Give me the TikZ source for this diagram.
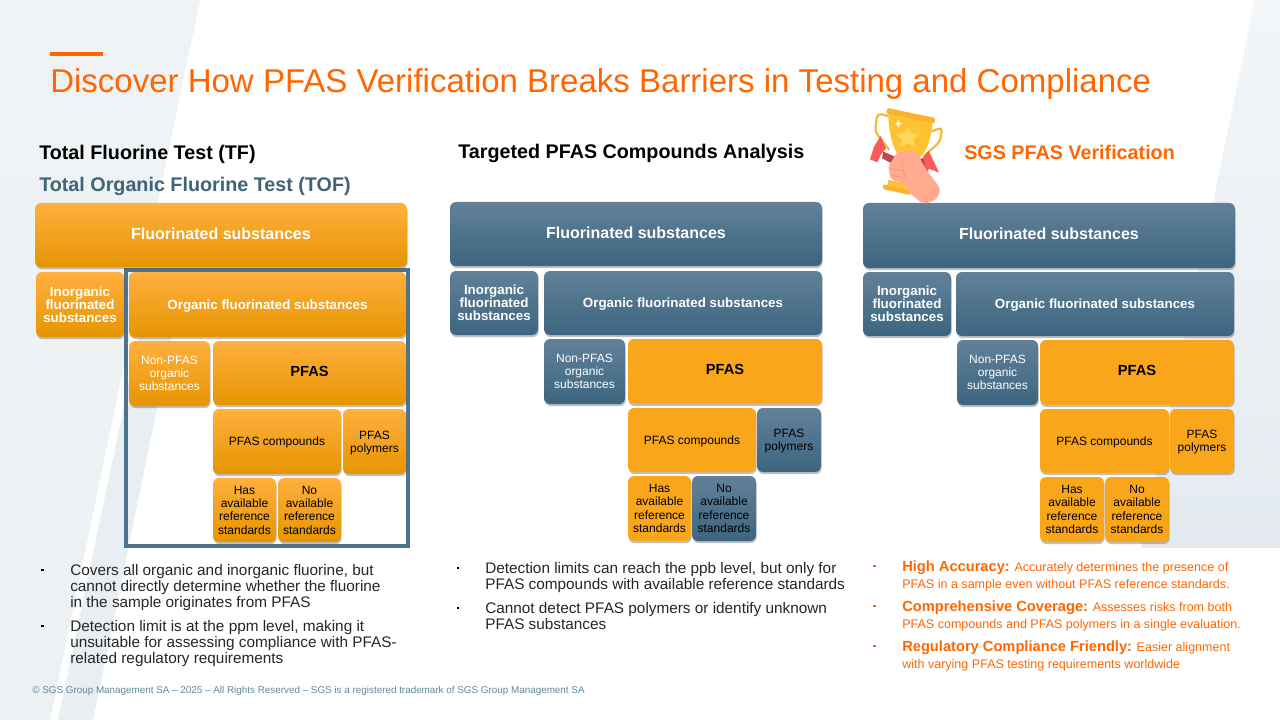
\documentclass[tikz,border=0pt]{standalone}
\usepackage{fontspec}
\setmainfont{Liberation Sans}
\usepackage{xcolor}
\definecolor{sgsorange}{HTML}{FF6600}
\definecolor{framepetrol}{HTML}{4D748F}
\definecolor{headpetrol}{HTML}{3F6475}
\definecolor{footpetrol}{HTML}{5F87A0}
\definecolor{flatorange}{HTML}{FAA61A}
\definecolor{orangetop}{HTML}{FFB03F}
\definecolor{orangemid}{HTML}{FFA814}
\definecolor{orangelow}{HTML}{E69500}
\definecolor{bluetop}{HTML}{628199}
\definecolor{bluemid}{HTML}{4A7390}
\definecolor{bluelow}{HTML}{3C6580}
\definecolor{cuphandle}{HTML}{F5B92F}
\definecolor{cupgold}{HTML}{FFC233}
\definecolor{cuprim}{HTML}{FDB22E}
\definecolor{cupstar}{HTML}{FFD95C}
\definecolor{ribbonred}{HTML}{FB5A5A}
\definecolor{ribbondark}{HTML}{B94A50}
\definecolor{handskin}{HTML}{FFAB8F}
\definecolor{handline}{HTML}{F08C6E}
\usetikzlibrary{shadows}
\tikzset{
	block/.style={rounded corners=4.5pt,inner sep=0pt,align=center,drop shadow={shadow xshift=0.5pt,shadow yshift=-1.6pt,opacity=.35,fill=black!70}},
	orangebox/.style={block,top color=orangetop,middle color=orangemid,bottom color=orangelow},
	bluebox/.style={block,top color=bluetop,middle color=bluemid,bottom color=bluelow},
	flatbox/.style={block,fill=flatorange},
	bigtext/.style={font=\bfseries\fontsize{12}{14}\selectfont,text=white,text depth=2.5pt},
	midtext/.style={font=\bfseries\fontsize{10}{9.75}\selectfont,text=white},
	linetext/.style={font=\bfseries\fontsize{10}{9.75}\selectfont,text=white,text depth=0pt},
	smalltext/.style={font=\fontsize{9}{9.75}\selectfont,text=white},
	darktext/.style={font=\fontsize{9}{10}\selectfont,text=black,text depth=0pt},
	pfastext/.style={font=\bfseries\fontsize{11}{13}\selectfont,text=black,text depth=2.5pt},
	heading/.style={anchor=base west,inner sep=0pt,font=\bfseries\fontsize{14.8}{16}\selectfont},
	bodytext/.style={anchor=north west,inner sep=0pt,align=left,font=\fontsize{11.5}{12}\selectfont,text=black!85},
	accenttext/.style={anchor=north west,inner sep=0pt,align=left,font=\fontsize{9.4}{12.6}\selectfont,text=sgsorange},
	bulletmark/.style={fill=#1,inner sep=0pt,minimum size=1.9pt}
}
% box given by its corners
\newcommand{\blockbox}[7][]{\node[#1,minimum width={(#5-#3)*0.75pt},minimum height={(#6-#4)*0.75pt}] (#2) at ({(#3+#5)/2},{(#4+#6)/2}) {#7};}
\newcommand{\lead}[1]{{\bfseries\fontsize{11}{12.6}\selectfont #1}}
\definecolor{backtop}{HTML}{F0F3F5}
\definecolor{backmid}{HTML}{E3E9ED}
\definecolor{backlow}{HTML}{ECF1F4}
\definecolor{backlight}{HTML}{E8EEF1}
\definecolor{righttop}{HTML}{F3F6F9}
\definecolor{rightlow}{HTML}{E4EBF0}
\begin{document}
\begin{tikzpicture}[x=0.75pt,y=-0.75pt]
	\useasboundingbox (0,0) rectangle (1280,720);
	%background
	\fill[white] (0,0) rectangle (1280,720);
	\shade[top color=backtop,middle color=backmid,bottom color=backlow] (0,0) -- (200,0) -- (50,720) -- (0,720) -- cycle;
	\fill[backlight] (139,335) -- (172,335) -- (93,720) -- (58,720) -- cycle;
	\shade[top color=righttop,bottom color=rightlow] (1255,0) -- (1280,0) -- (1280,548) -- (1141,548) -- cycle;

	%title
	\fill[sgsorange] (50,52) rectangle (103,56);
	\node[anchor=base west,inner sep=0pt,text=sgsorange,font=\fontsize{24.76}{28}\selectfont] (title) at (50,93) {Discover How PFAS Verification Breaks Barriers in Testing and Compliance};

	%headings
	\node[heading] (tfhead) at (39,160) {Total Fluorine Test (TF)};
	\node[heading,text=headpetrol] (tofhead) at (39,192) {Total Organic Fluorine Test (TOF)};
	\node[heading] (targethead) at (458,159) {Targeted PFAS Compounds Analysis};
	\node[heading,text=sgsorange] (sgshead) at (964,160) {SGS PFAS Verification};

	%left tree
	\draw[framepetrol,line width=3pt] (126,270) rectangle (408,546);
	\blockbox[orangebox,bigtext]{fa}{35}{203}{407}{267}{Fluorinated substances}
	\blockbox[orangebox,midtext]{ia}{36}{272}{124}{337}{Inorganic\\fluorinated\\substances}
	\blockbox[orangebox,linetext]{oa}{129}{272}{406}{337}{Organic fluorinated substances}
	\blockbox[orangebox,smalltext]{na}{129}{341}{210}{406}{Non-PFAS\\organic\\substances}
	\blockbox[orangebox,pfastext]{pa}{213}{341}{406}{405}{PFAS}
	\blockbox[orangebox,darktext]{ca}{213}{409}{341}{474}{PFAS compounds}
	\blockbox[orangebox,darktext]{ma}{343}{409}{406}{474}{PFAS\\polymers}
	\blockbox[orangebox,darktext]{ha}{213}{478}{276}{542}{Has\\available\\reference\\standards}
	\blockbox[orangebox,darktext]{xa}{278}{478}{341}{542}{No\\available\\reference\\standards}

	%middle tree
	\blockbox[bluebox,bigtext]{fb}{450}{202}{822}{266}{Fluorinated substances}
	\blockbox[bluebox,midtext]{ib}{450}{271}{538}{335}{Inorganic\\fluorinated\\substances}
	\blockbox[bluebox,linetext]{ob}{544}{271}{822}{335}{Organic fluorinated substances}
	\blockbox[bluebox,smalltext]{nb}{544}{339}{625}{404}{Non-PFAS\\organic\\substances}
	\blockbox[flatbox,pfastext]{pb}{628}{339}{822}{404}{PFAS}
	\blockbox[flatbox,darktext]{cb}{628}{408}{756}{472}{PFAS compounds}
	\blockbox[bluebox,darktext]{mb}{757}{408}{821}{472}{PFAS\\polymers}
	\blockbox[flatbox,darktext]{hb}{628}{476}{691}{541}{Has\\available\\reference\\standards}
	\blockbox[bluebox,darktext]{xb}{692}{476}{756}{541}{No\\available\\reference\\standards}

	%right tree
	\blockbox[bluebox,bigtext]{fc}{863}{203}{1235}{268}{Fluorinated substances}
	\blockbox[bluebox,midtext]{ic}{863}{272}{951}{336}{Inorganic\\fluorinated\\substances}
	\blockbox[bluebox,linetext]{oc}{956}{272}{1234}{336}{Organic fluorinated substances}
	\blockbox[bluebox,smalltext]{nc}{957}{340}{1038}{405}{Non-PFAS\\organic\\substances}
	\blockbox[flatbox,pfastext]{pc}{1040}{340}{1234}{405}{PFAS}
	\blockbox[flatbox,darktext]{cc}{1040}{409}{1169}{473}{PFAS compounds}
	\blockbox[flatbox,darktext]{mc}{1170}{409}{1234}{473}{PFAS\\polymers}
	\blockbox[flatbox,darktext]{hc}{1040}{477}{1104}{542}{Has\\available\\reference\\standards}
	\blockbox[flatbox,darktext]{xc}{1105}{477}{1169}{542}{No\\available\\reference\\standards}

	%bullets left
	\node[bulletmark=black] (b1) at (42.5,570) {};
	\node[bodytext] (t1) at (70,564) {Covers all organic and inorganic fluorine, but\\cannot directly determine whether the fluorine\\in the sample originates from PFAS};
	\node[bulletmark=black] (b2) at (42.5,626) {};
	\node[bodytext] (t2) at (70,620) {Detection limit is at the ppm level, making it\\unsuitable for assessing compliance with PFAS-\\related regulatory requirements};

	%bullets middle
	\node[bulletmark=black] (b3) at (458,568) {};
	\node[bodytext] (t3) at (485,562) {Detection limits can reach the ppb level, but only for\\PFAS compounds with available reference standards};
	\node[bulletmark=black] (b4) at (458,608) {};
	\node[bodytext] (t4) at (485,602) {Cannot detect PFAS polymers or identify unknown\\PFAS substances};

	%bullets right
	\node[bulletmark=sgsorange] (b5) at (874.5,566) {};
	\node[accenttext] (t5) at (902,561) {\lead{High Accuracy:} Accurately determines the presence of\\PFAS in a sample even without PFAS reference standards.};
	\node[bulletmark=sgsorange] (b6) at (874.5,606) {};
	\node[accenttext] (t6) at (902,601) {\lead{Comprehensive Coverage:} Assesses risks from both\\PFAS compounds and PFAS polymers in a single evaluation.};
	\node[bulletmark=sgsorange] (b7) at (874.5,646) {};
	\node[accenttext] (t7) at (902,641) {\lead{Regulatory Compliance Friendly:} Easier alignment\\with varying PFAS testing requirements worldwide};

	%footer
	\node[anchor=base west,inner sep=0pt,text=footpetrol,font=\fontsize{7.4}{9}\selectfont] (foot) at (32,693) {© SGS Group Management SA – 2025 – All Rights Reserved – SGS is a registered trademark of SGS Group Management SA};

	%trophy
	\begin{scope}[shift={(860,100)},x=0.25pt,y=-0.25pt]
		\draw[line width=1.6pt,cuphandle,rounded corners=3pt] (85,48) -- (52,40) -- (45,95) -- (88,150);
		\draw[line width=1.6pt,cuphandle,rounded corners=3pt] (212,95) -- (247,82) -- (240,125) -- (190,170);
		\fill[ribbonred] (62,108) -- (78,145) -- (62,165) -- (52,187) -- (30,178) -- (42,140) -- cycle;
		\fill[ribbonred] (206,152) -- (237,218) -- (206,206) -- (200,232) -- (180,185) -- cycle;
		\fill[cupgold] (85,40) -- (218,65) .. controls (212,130) and (195,175) .. (150,190) .. controls (105,180) and (85,110) .. (85,40);
		\fill[ribbondark] (70,155) -- (105,170) -- (95,190) -- (66,175) -- cycle;
		\fill[ribbondark] (165,178) -- (190,175) -- (195,195) -- (172,200) -- cycle;
		\fill[cuprim,rounded corners=1pt] (82,24) -- (226,54) -- (223,71) -- (78,40) -- cycle;
		\fill[cupstar] (145,80) -- (154,100) -- (176,103) -- (160,118) -- (165,140) -- (142,130) -- (122,141) -- (125,118) -- (110,102) -- (132,99) -- cycle;
		\fill[white] (115,60) -- (118,68) -- (126,71) -- (118,74) -- (115,82) -- (112,74) -- (104,71) -- (112,68) -- cycle;
		\fill[cuprim,rounded corners=1pt] (70,253) -- (150,268) -- (150,285) -- (68,267) -- cycle;
		\fill[cupgold] (85,240) -- (145,250) -- (145,270) -- (82,256) -- cycle;
		\fill[handskin,rounded corners=3pt] (108,155) -- (168,150) -- (192,200) -- (243,268) -- (228,300) -- (190,313) -- (150,280) -- (130,247) -- (92,240) -- (84,195) -- (100,180) -- cycle;
		\draw[line width=0.4pt,handline] (90,205) -- (125,212) (92,225) -- (128,232) (125,185) -- (135,235);
	\end{scope}
\end{tikzpicture}
\end{document}
